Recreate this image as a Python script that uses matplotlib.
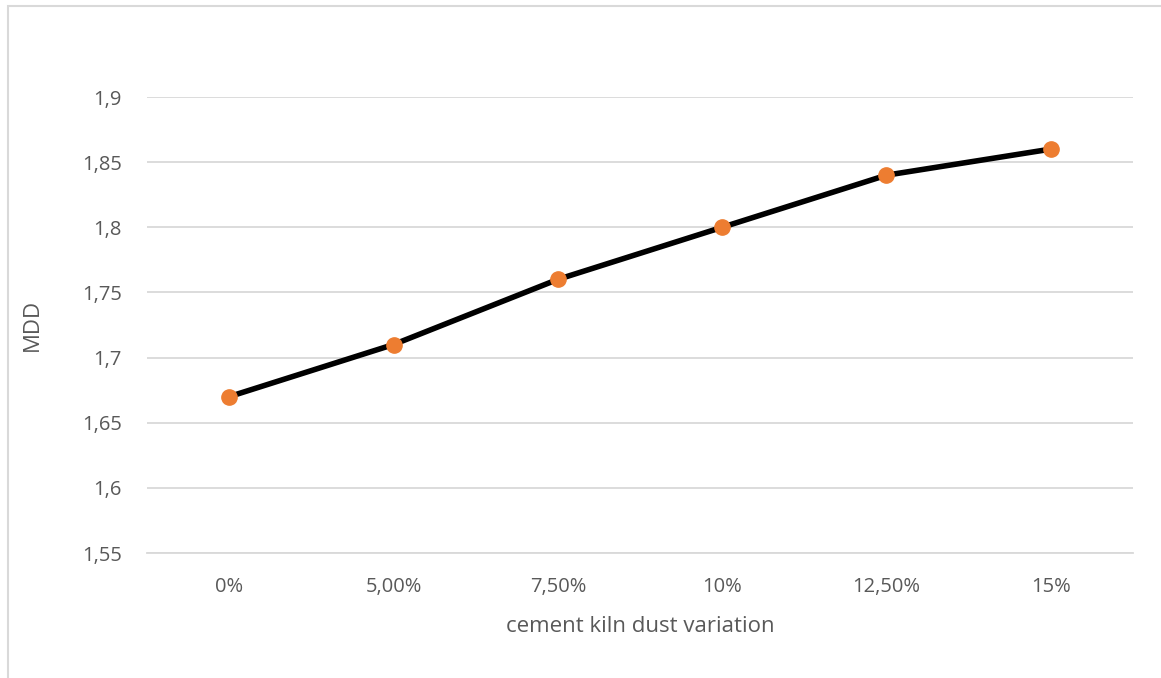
import matplotlib
matplotlib.use("Agg")
import matplotlib.pyplot as plt
from matplotlib.patches import Rectangle

categories = ["0%", "5,00%", "7,50%", "10%", "12,50%", "15%"]
mdd = [1.67, 1.71, 1.76, 1.80, 1.84, 1.86]
yticks = [1.55, 1.6, 1.65, 1.7, 1.75, 1.8, 1.85, 1.9]
ytick_labels = ["1,55", "1,6", "1,65", "1,7", "1,75", "1,8", "1,85", "1,9"]

plt.rcParams['font.family'] = ['Open Sans', 'DejaVu Sans']
W, H = 1161, 678
fig = plt.figure(figsize=(W / 100, H / 100), dpi=100)
ax = fig.add_axes([147 / W, 1 - 553 / H, (1133 - 147) / W, (553 - 97) / H])

x = list(range(len(categories)))
ax.plot(x, mdd, color="black", lw=4, zorder=3, solid_capstyle="round")
ax.plot(x, mdd, "o", color="#ED7D31", ms=11, zorder=4)

ax.set_xlim(-0.5, len(categories) - 0.5)
ax.set_ylim(1.55, 1.9)
ax.set_yticks(yticks)
ax.set_yticklabels(ytick_labels)
ax.set_xticks(x)
ax.set_xticklabels(categories)
ax.grid(axis="y", color="#d9d9d9", lw=1.3)
ax.set_axisbelow(True)
for s in ["top", "right", "left"]:
    ax.spines[s].set_visible(False)
ax.spines["bottom"].set_color("#d9d9d9")
ax.spines["bottom"].set_linewidth(1.3)
ax.tick_params(axis="both", length=0, labelsize=14.5, labelcolor="#595959")
ax.tick_params(axis="y", pad=18)
ax.tick_params(axis="x", pad=17)
ax.set_xlabel("cement kiln dust variation", fontsize=16, color="#595959", labelpad=14)
ax.set_ylabel("MDD", fontsize=16, color="#595959", labelpad=28)

fig.patches.append(Rectangle((8 / W, -0.01), 1.1, 1 - 6 / H + 0.01, transform=fig.transFigure,
                             fill=False, edgecolor="#d9d9d9", lw=1.5))

fig.savefig("out.png", dpi=100)
